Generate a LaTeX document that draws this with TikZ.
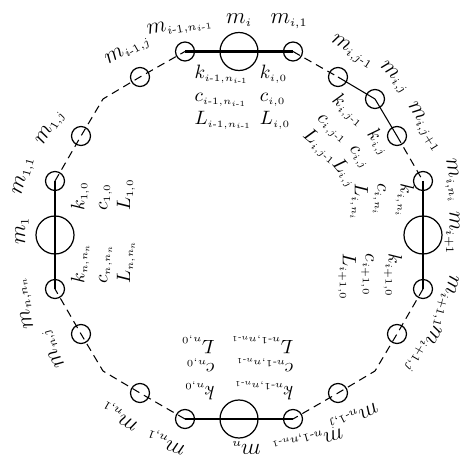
\documentclass[tikz,border=0pt]{standalone}
\usepackage{fix-cm}
\usepackage{amsmath}
\DeclareMathSizes{13}{13}{6.5}{5}
\DeclareMathSizes{11}{11}{5.5}{4.5}
\newcommand{\hy}{\text{-}}

\begin{document}
\begin{tikzpicture}[x=1.000cm,y=1.000cm,
 big/.style={draw,circle,line width=0.7pt,minimum size=0.76cm,inner sep=0pt},
 small/.style={draw,circle,line width=0.7pt,minimum size=0.38cm,inner sep=0pt},
 axis/.style={line width=1.3pt},
 link/.style={line width=0.6pt},
 gap/.style={line width=0.6pt,dash pattern=on 4.5pt off 3pt},
 lab/.style={font=\fontsize{13}{15}\selectfont,inner sep=0pt},
 par/.style={font=\fontsize{11}{13}\selectfont,align=left,inner sep=0pt}]
\useasboundingbox (-4.780,-4.540) rectangle (4.540,4.700);
\node[big] (mi) at (0.000,3.670) {};
\node[small] (mi1) at (1.080,3.670) {};
\node[small] (mpn) at (-1.080,3.670) {};
\node[small] (mijm) at (1.980,3.160) {};
\node[small] (mij) at (2.720,2.720) {};
\node[small] (mijp) at (3.160,1.980) {};
\node[small] (mini) at (3.680,1.080) {};
\node[big] (mq) at (3.680,0.000) {};
\node[small] (mq1) at (3.680,-1.080) {};
\node[small] (mqj) at (3.160,-1.980) {};
\coordinate (lr) at (2.720,-2.720);
\node[small] (mrj) at (1.980,-3.160) {};
\node[small] (mrn) at (1.080,-3.680) {};
\node[big] (mn) at (0.000,-3.680) {};
\node[small] (mn1) at (-1.080,-3.680) {};
\node[small] (mnk) at (-1.980,-3.160) {};
\coordinate (ll) at (-2.720,-2.720);
\node[small] (mnj) at (-3.160,-1.980) {};
\node[small] (mnn) at (-3.680,-1.080) {};
\node[big] (mo) at (-3.680,0.000) {};
\node[small] (mo1) at (-3.680,1.080) {};
\node[small] (moj) at (-3.160,1.980) {};
\coordinate (ul) at (-2.720,2.720);
\node[small] (mpj) at (-1.980,3.160) {};
\draw[axis] (mpn.center) -- (mi.center) -- (mi1.center);
\draw[axis] (mini.center) -- (mq.center) -- (mq1.center);
\draw[axis] (mrn.center) -- (mn.center) -- (mn1.center);
\draw[axis] (mnn.center) -- (mo.center) -- (mo1.center);
\draw[gap] (mi1.center) -- (mijm.center);
\draw[link] (mijm.center) -- (mij.center) -- (mijp.center);
\draw[gap] (mijp.center) -- (mini.center);
\draw[gap] (mq1.center) -- (mqj.center) -- (lr) -- (mrj.center) -- (mrn.center);
\draw[gap] (mn1.center) -- (mnk.center) -- (ll) -- (mnj.center) -- (mnn.center);
\draw[gap] (mo1.center) -- (moj.center) -- (ul) -- (mpj.center) -- (mpn.center);
\node[lab] (tmi) at (0.000,4.300) {$m_{i}$};
\node[lab] (tmi1) at (1.000,4.280) {$m_{i,1}$};
\node[lab,rotate=10] (tmpn) at (-1.180,4.160) {$m_{i\hy1,n_{i\hy1}}$};
\node[lab,rotate=30] (tmpj) at (-2.220,3.680) {$m_{i\hy1,j}$};
\node[lab,rotate=60] (tmoj) at (-3.760,2.140) {$m_{1,j}$};
\node[lab,rotate=75] (tmo1) at (-4.300,1.180) {$m_{1,1}$};
\node[lab,rotate=90] (tmo) at (-4.340,0.080) {$m_{1}$};
\node[lab,rotate=105] (tmnn) at (-4.280,-1.360) {$m_{n,n_n}$};
\node[lab,rotate=120] (tmnj) at (-3.720,-2.260) {$m_{n,j}$};
\node[lab,rotate=150] (tmnk) at (-2.380,-3.600) {$m_{n,1}$};
\node[lab,rotate=160] (tmn1) at (-1.460,-4.130) {$m_{n,1}$};
\node[lab,rotate=180] (tmn) at (0.140,-4.260) {$m_{n}$};
\node[lab,rotate=195] (tmrn) at (1.360,-4.100) {$m_{n\hy1,n_{n\hy1}}$};
\node[lab,rotate=207] (tmrj) at (2.280,-3.620) {$m_{n\hy1,j}$};
\node[lab,rotate=-120] (tmqj) at (3.680,-2.280) {$m_{i+1,j}$};
\node[lab,rotate=-105] (tmq1) at (4.120,-1.320) {$m_{i+1,1}$};
\node[lab,rotate=-90] (tmq) at (4.260,0.040) {$m_{i+1}$};
\node[lab,rotate=-80] (tmini) at (4.260,1.080) {$m_{i,n_i}$};
\node[lab,rotate=-58] (tmijp) at (3.700,2.160) {$m_{i,j+1}$};
\node[lab,rotate=-45] (tmij) at (3.100,3.140) {$m_{i,j}$};
\node[lab,rotate=-32] (tmijm) at (2.260,3.660) {$m_{i,j\hy1}$};
\node[par] (pt1) at (-0.320,2.760) {$k_{i\hy1,n_{i\hy1}}$\\$c_{i\hy1,n_{i\hy1}}$\\$L_{i\hy1,n_{i\hy1}}$};
\node[par] (pt2) at (0.720,2.760) {$k_{i,0}$\\$c_{i,0}$\\$L_{i,0}$};
\node[par,rotate=-40] (pd1) at (1.920,2.120) {$k_{i,j\hy1}$\\$c_{i,j\hy1}$\\$L_{i,j\hy1}$};
\node[par,rotate=-50] (pd2) at (2.460,1.540) {$k_{i,j}$\\$c_{i,j}$\\$L_{i,j}$};
\node[par,rotate=-90] (pr1) at (2.860,0.660) {$k_{i,n_i}$\\$c_{i,n_i}$\\$L_{i,n_i}$};
\node[par,rotate=-90] (pr2) at (2.620,-0.840) {$k_{i+1,0}$\\$c_{i+1,0}$\\$L_{i+1,0}$};
\node[par,rotate=180] (pb1) at (0.460,-2.660) {$k_{n\hy1,n_{n\hy1}}$\\$c_{n\hy1,n_{n\hy1}}$\\$L_{n\hy1,n_{n\hy1}}$};
\node[par,rotate=180] (pb2) at (-0.820,-2.660) {$k_{n,0}$\\$c_{n,0}$\\$L_{n,0}$};
\node[par,rotate=90] (pl1) at (-2.720,-0.540) {$k_{n,n_n}$\\$c_{n,n_n}$\\$L_{n,n_n}$};
\node[par,rotate=90] (pl2) at (-2.720,0.800) {$k_{1,0}$\\$c_{1,0}$\\$L_{1,0}$};
\end{tikzpicture}
\end{document}
